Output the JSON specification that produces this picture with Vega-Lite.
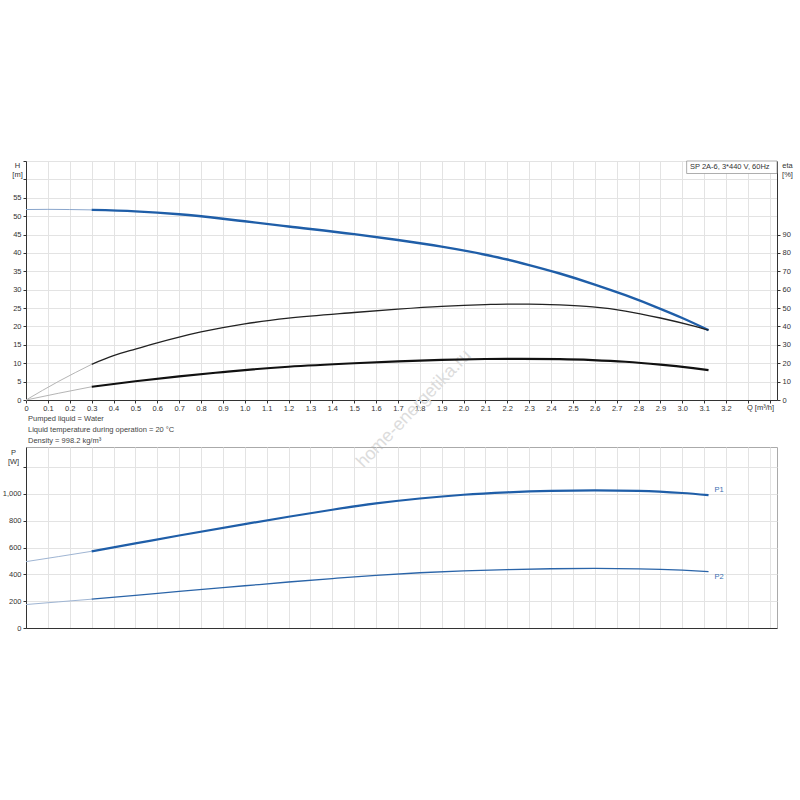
{
  "$schema": "https://vega.github.io/schema/vega-lite/v6.json",
  "background": "white",
  "padding": {"left": 1, "top": 156, "right": 8, "bottom": 10},
  "bounds": "flush",
  "spacing": 47,
  "config": {
    "font": "Liberation Sans",
    "axis": {
      "labelFontSize": 7.5,
      "labelColor": "#333333",
      "labelFont": "Liberation Sans",
      "titleFont": "Liberation Sans",
      "titleFontSize": 7.5,
      "titleFontWeight": "normal",
      "titleColor": "#333333",
      "tickColor": "#333333",
      "tickSize": 3,
      "labelPadding": 2,
      "domainColor": "#333333",
      "gridColor": "#e3e3e3",
      "gridWidth": 1
    },
    "text": {"font": "Liberation Sans"}
  },
  "datasets": {
    "curves": [
      {"s": "H", "seg": "ext", "Q": 0, "v": 51.8},
      {"s": "H", "seg": "ext", "Q": 0.1, "v": 51.85},
      {"s": "H", "seg": "ext", "Q": 0.2, "v": 51.8},
      {"s": "H", "seg": "ext", "Q": 0.3, "v": 51.7},
      {"s": "H", "seg": "main", "Q": 0.3, "v": 51.7},
      {"s": "H", "seg": "main", "Q": 0.5, "v": 51.3},
      {"s": "H", "seg": "main", "Q": 0.7, "v": 50.5},
      {"s": "H", "seg": "main", "Q": 0.9, "v": 49.3},
      {"s": "H", "seg": "main", "Q": 1.0, "v": 48.6},
      {"s": "H", "seg": "main", "Q": 1.2, "v": 47.2},
      {"s": "H", "seg": "main", "Q": 1.5, "v": 45.1},
      {"s": "H", "seg": "main", "Q": 1.7, "v": 43.5},
      {"s": "H", "seg": "main", "Q": 1.9, "v": 41.7},
      {"s": "H", "seg": "main", "Q": 2.1, "v": 39.5},
      {"s": "H", "seg": "main", "Q": 2.2, "v": 38.2},
      {"s": "H", "seg": "main", "Q": 2.3, "v": 36.7},
      {"s": "H", "seg": "main", "Q": 2.44, "v": 34.4},
      {"s": "H", "seg": "main", "Q": 2.6, "v": 31.4},
      {"s": "H", "seg": "main", "Q": 2.74, "v": 28.5},
      {"s": "H", "seg": "main", "Q": 2.9, "v": 24.8},
      {"s": "H", "seg": "main", "Q": 3.0, "v": 22.3},
      {"s": "H", "seg": "main", "Q": 3.12, "v": 19.0},
      {"s": "eta", "seg": "ext", "Q": 0, "v": 0},
      {"s": "eta", "seg": "ext", "Q": 0.15, "v": 10.2},
      {"s": "eta", "seg": "ext", "Q": 0.3, "v": 19.4},
      {"s": "eta", "seg": "main", "Q": 0.3, "v": 19.4},
      {"s": "eta", "seg": "main", "Q": 0.4, "v": 24.1},
      {"s": "eta", "seg": "main", "Q": 0.5, "v": 27.7},
      {"s": "eta", "seg": "main", "Q": 0.6, "v": 31.1},
      {"s": "eta", "seg": "main", "Q": 0.7, "v": 34.2},
      {"s": "eta", "seg": "main", "Q": 0.8, "v": 37.0},
      {"s": "eta", "seg": "main", "Q": 0.9, "v": 39.4},
      {"s": "eta", "seg": "main", "Q": 1.0, "v": 41.4},
      {"s": "eta", "seg": "main", "Q": 1.2, "v": 44.5},
      {"s": "eta", "seg": "main", "Q": 1.5, "v": 47.6},
      {"s": "eta", "seg": "main", "Q": 1.7, "v": 49.4},
      {"s": "eta", "seg": "main", "Q": 1.9, "v": 50.9},
      {"s": "eta", "seg": "main", "Q": 2.1, "v": 51.9},
      {"s": "eta", "seg": "main", "Q": 2.2, "v": 52.2},
      {"s": "eta", "seg": "main", "Q": 2.3, "v": 52.2},
      {"s": "eta", "seg": "main", "Q": 2.44, "v": 51.7},
      {"s": "eta", "seg": "main", "Q": 2.59, "v": 50.6},
      {"s": "eta", "seg": "main", "Q": 2.74, "v": 48.4},
      {"s": "eta", "seg": "main", "Q": 2.9, "v": 44.6},
      {"s": "eta", "seg": "main", "Q": 3.05, "v": 40.3},
      {"s": "eta", "seg": "main", "Q": 3.12, "v": 38.0},
      {"s": "etatot", "seg": "ext", "Q": 0, "v": 0},
      {"s": "etatot", "seg": "ext", "Q": 0.15, "v": 3.7},
      {"s": "etatot", "seg": "ext", "Q": 0.3, "v": 7.2},
      {"s": "etatot", "seg": "main", "Q": 0.3, "v": 7.2},
      {"s": "etatot", "seg": "main", "Q": 0.5, "v": 10.2},
      {"s": "etatot", "seg": "main", "Q": 0.7, "v": 12.9},
      {"s": "etatot", "seg": "main", "Q": 0.9, "v": 15.2},
      {"s": "etatot", "seg": "main", "Q": 1.0, "v": 16.3},
      {"s": "etatot", "seg": "main", "Q": 1.2, "v": 18.1},
      {"s": "etatot", "seg": "main", "Q": 1.5, "v": 20.0},
      {"s": "etatot", "seg": "main", "Q": 1.7, "v": 21.0},
      {"s": "etatot", "seg": "main", "Q": 1.9, "v": 21.8},
      {"s": "etatot", "seg": "main", "Q": 2.1, "v": 22.3},
      {"s": "etatot", "seg": "main", "Q": 2.2, "v": 22.4},
      {"s": "etatot", "seg": "main", "Q": 2.44, "v": 22.2},
      {"s": "etatot", "seg": "main", "Q": 2.59, "v": 21.7},
      {"s": "etatot", "seg": "main", "Q": 2.74, "v": 20.8},
      {"s": "etatot", "seg": "main", "Q": 2.9, "v": 19.2},
      {"s": "etatot", "seg": "main", "Q": 3.05, "v": 17.3},
      {"s": "etatot", "seg": "main", "Q": 3.12, "v": 16.3},
      {"s": "P1", "seg": "ext", "Q": 0, "v": 495},
      {"s": "P1", "seg": "ext", "Q": 0.15, "v": 533},
      {"s": "P1", "seg": "ext", "Q": 0.3, "v": 572},
      {"s": "P1", "seg": "main", "Q": 0.3, "v": 572},
      {"s": "P1", "seg": "main", "Q": 0.5, "v": 631},
      {"s": "P1", "seg": "main", "Q": 0.7, "v": 690},
      {"s": "P1", "seg": "main", "Q": 1.0, "v": 775},
      {"s": "P1", "seg": "main", "Q": 1.2, "v": 830},
      {"s": "P1", "seg": "main", "Q": 1.4, "v": 882},
      {"s": "P1", "seg": "main", "Q": 1.6, "v": 929},
      {"s": "P1", "seg": "main", "Q": 1.8, "v": 966},
      {"s": "P1", "seg": "main", "Q": 2.0, "v": 994},
      {"s": "P1", "seg": "main", "Q": 2.2, "v": 1012},
      {"s": "P1", "seg": "main", "Q": 2.4, "v": 1023},
      {"s": "P1", "seg": "main", "Q": 2.6, "v": 1027},
      {"s": "P1", "seg": "main", "Q": 2.8, "v": 1023},
      {"s": "P1", "seg": "main", "Q": 3.0, "v": 1007},
      {"s": "P1", "seg": "main", "Q": 3.12, "v": 991},
      {"s": "P2", "seg": "ext", "Q": 0, "v": 175},
      {"s": "P2", "seg": "ext", "Q": 0.15, "v": 195},
      {"s": "P2", "seg": "ext", "Q": 0.3, "v": 215},
      {"s": "P2", "seg": "main", "Q": 0.3, "v": 215},
      {"s": "P2", "seg": "main", "Q": 0.5, "v": 244},
      {"s": "P2", "seg": "main", "Q": 0.7, "v": 273},
      {"s": "P2", "seg": "main", "Q": 1.0, "v": 315},
      {"s": "P2", "seg": "main", "Q": 1.2, "v": 343},
      {"s": "P2", "seg": "main", "Q": 1.4, "v": 369},
      {"s": "P2", "seg": "main", "Q": 1.6, "v": 393},
      {"s": "P2", "seg": "main", "Q": 1.8, "v": 412},
      {"s": "P2", "seg": "main", "Q": 2.0, "v": 426},
      {"s": "P2", "seg": "main", "Q": 2.2, "v": 436},
      {"s": "P2", "seg": "main", "Q": 2.4, "v": 442},
      {"s": "P2", "seg": "main", "Q": 2.6, "v": 444},
      {"s": "P2", "seg": "main", "Q": 2.8, "v": 441},
      {"s": "P2", "seg": "main", "Q": 3.0, "v": 431},
      {"s": "P2", "seg": "main", "Q": 3.12, "v": 421}
    ]
  },
  "vconcat": [
    {
      "width": 751,
      "height": 239,
      "view": {"stroke": "#dddddd"},
      "layer": [
        {
          "layer": [
            {
              "data": {"name": "curves"},
              "transform": [{"filter": "datum.s == 'H' && datum.seg == 'ext'"}],
              "mark": {"type": "line", "interpolate": "monotone", "color": "#8aa6cc", "strokeWidth": 1},
              "encoding": {
                "x": {
                  "field": "Q", "type": "quantitative",
                  "scale": {"domain": [0, 3.433], "nice": false, "zero": false},
                  "axis": {"orient": "top", "grid": true, "gridColor": "#e3e3e3", "labels": false, "ticks": false, "domain": false, "tickCount": 34, "title": null}
                },
                "y": {
                  "field": "v", "type": "quantitative",
                  "scale": {"domain": [0, 65], "nice": false},
                  "axis": {"orient": "right", "grid": true, "gridColor": "#e3e3e3", "labels": false, "ticks": false, "domain": false, "tickCount": 13, "title": null}
                }
              }
            },
            {
              "data": {"name": "curves"},
              "transform": [{"filter": "datum.s == 'H' && datum.seg == 'main'"}],
              "mark": {"type": "line", "interpolate": "monotone", "color": "#1f5ea8", "strokeWidth": 2.4},
              "encoding": {
                "x": {
                  "field": "Q", "type": "quantitative",
                  "axis": {
                    "orient": "bottom",
                    "tickCount": 34,
                    "labelExpr": "datum.value > 3.25 ? '' : datum.value == 0 ? '0' : format(datum.value, '.1f')",
                    "labelFlush": false,
                    "labelOverlap": false,
                    "labelPadding": 1,
                    "grid": false,
                    "title": "Q [m³/h]",
                    "titleAngle": 0,
                    "titleAlign": "center",
                    "titleBaseline": "middle",
                    "titleX": 734,
                    "titleY": 7
                  }
                },
                "y": {
                  "field": "v", "type": "quantitative",
                  "axis": {
                    "orient": "left",
                    "tickCount": 13,
                    "labelExpr": "datum.value > 57 ? '' : datum.label",
                    "labelOverlap": false,
                    "grid": false,
                    "title": ["H", "[m]"],
                    "titleAngle": 0,
                    "titleAlign": "center",
                    "titleBaseline": "top",
                    "titleLineHeight": 9.5,
                    "titleX": -9,
                    "titleY": 0
                  }
                }
              }
            },
            {
              "data": {"values": [{}]},
              "mark": {"type": "rect", "fill": "white", "stroke": "#999999", "strokeWidth": 0.8},
              "encoding": {
                "x": {"datum": 3.02, "type": "quantitative", "axis": null},
                "x2": {"datum": 3.433},
                "y": {"datum": 61.6, "type": "quantitative", "axis": null},
                "y2": {"datum": 65}
              }
            },
            {
              "data": {"values": [{}]},
              "mark": {"type": "text", "align": "left", "baseline": "middle", "fontSize": 7.5, "color": "#333333"},
              "encoding": {
                "x": {"datum": 3.035, "type": "quantitative", "axis": null},
                "y": {"datum": 63.3, "type": "quantitative", "axis": null},
                "text": {"value": "SP 2A-6, 3*440 V, 60Hz"}
              }
            },
            {
              "data": {"values": [{}]},
              "mark": {"type": "text", "align": "center", "baseline": "middle", "fontSize": 18, "angle": -46, "color": "#dcdcdc"},
              "encoding": {
                "x": {"datum": 1.774, "type": "quantitative", "axis": null},
                "y": {"datum": -2.45, "type": "quantitative", "axis": null},
                "text": {"value": "home-energetika.ru"}
              }
            }
          ],
          "resolve": {"axis": {"x": "independent", "y": "independent"}}
        },
        {
          "layer": [
            {
              "data": {"name": "curves"},
              "transform": [{"filter": "datum.s == 'eta' && datum.seg == 'main'"}],
              "mark": {"type": "line", "interpolate": "monotone", "color": "#222222", "strokeWidth": 1.3},
              "encoding": {
                "x": {"field": "Q", "type": "quantitative", "axis": null},
                "y": {
                  "field": "v", "type": "quantitative",
                  "scale": {"domain": [0, 130], "nice": false},
                  "axis": {
                    "orient": "right",
                    "tickCount": 13,
                    "labelExpr": "datum.value > 95 ? '' : datum.label",
                    "tickOpacity": {"condition": {"test": "datum.value > 95", "value": 0}, "value": 1},
                    "labelOverlap": false,
                    "grid": false,
                    "title": ["eta", "[%]"],
                    "titleAngle": 0,
                    "titleAlign": "center",
                    "titleBaseline": "top",
                    "titleLineHeight": 9.5,
                    "titleX": 10,
                    "titleY": 0
                  }
                }
              }
            },
            {
              "data": {"name": "curves"},
              "transform": [{"filter": "datum.s == 'etatot' && datum.seg == 'main'"}],
              "mark": {"type": "line", "interpolate": "monotone", "color": "#111111", "strokeWidth": 2.2},
              "encoding": {
                "x": {"field": "Q", "type": "quantitative", "axis": null},
                "y": {"field": "v", "type": "quantitative", "axis": null}
              }
            },
            {
              "data": {"name": "curves"},
              "transform": [{"filter": "datum.s != 'H' && datum.s != 'P1' && datum.s != 'P2' && datum.seg == 'ext'"}],
              "mark": {"type": "line", "interpolate": "monotone", "color": "#b5b5b5", "strokeWidth": 1},
              "encoding": {
                "x": {"field": "Q", "type": "quantitative", "axis": null},
                "y": {"field": "v", "type": "quantitative", "axis": null},
                "detail": {"field": "s"}
              }
            }
          ],
          "resolve": {"axis": {"x": "independent", "y": "independent"}}
        }
      ],
      "resolve": {"scale": {"y": "independent"}, "axis": {"x": "independent", "y": "independent"}}
    },
    {
      "width": 751,
      "height": 181,
      "view": {"stroke": "#aaaaaa"},
      "title": {
        "text": ["Pumped liquid = Water", "Liquid temperature during operation = 20 °C", "Density = 998.2 kg/m³"],
        "anchor": "start",
        "frame": "group",
        "orient": "top",
        "fontSize": 7.5,
        "fontWeight": "normal",
        "color": "#444444",
        "lineHeight": 11,
        "baseline": "bottom",
        "offset": -5,
        "dx": 2
      },
      "layer": [
        {
          "data": {"name": "curves"},
          "transform": [{"filter": "(datum.s == 'P1' || datum.s == 'P2') && datum.seg == 'ext'"}],
          "mark": {"type": "line", "interpolate": "monotone", "color": "#9fb5d3", "strokeWidth": 1},
          "encoding": {
            "x": {
              "field": "Q", "type": "quantitative",
              "scale": {"domain": [0, 3.433], "nice": false, "zero": false},
              "axis": {"orient": "top", "grid": true, "gridColor": "#e3e3e3", "labels": false, "ticks": false, "domain": false, "tickCount": 34, "title": null}
            },
            "y": {
              "field": "v", "type": "quantitative",
              "scale": {"domain": [0, 1350], "nice": false},
              "axis": {"orient": "right", "grid": true, "gridColor": "#e3e3e3", "labels": false, "ticks": false, "domain": false, "tickCount": 7, "title": null}
            },
            "detail": {"field": "s"}
          }
        },
        {
          "data": {"name": "curves"},
          "transform": [{"filter": "datum.s == 'P1' && datum.seg == 'main'"}],
          "mark": {"type": "line", "interpolate": "monotone", "color": "#1f5ea8", "strokeWidth": 2.2},
          "encoding": {
            "x": {
              "field": "Q", "type": "quantitative",
              "axis": {"orient": "bottom", "labels": false, "ticks": false, "grid": false, "title": null}
            },
            "y": {
              "field": "v", "type": "quantitative",
              "axis": {
                "orient": "left",
                "tickCount": 7,
                "labelExpr": "datum.value > 1100 ? '' : format(datum.value, ',')",
                "labelOverlap": false,
                "grid": false,
                "title": ["P", "[W]"],
                "titleAngle": 0,
                "titleAlign": "center",
                "titleBaseline": "top",
                "titleLineHeight": 9.5,
                "titleX": -13,
                "titleY": 1
              }
            }
          }
        },
        {
          "data": {"name": "curves"},
          "transform": [{"filter": "datum.s == 'P2' && datum.seg == 'main'"}],
          "mark": {"type": "line", "interpolate": "monotone", "color": "#2a64a8", "strokeWidth": 1.3},
          "encoding": {
            "x": {"field": "Q", "type": "quantitative", "axis": null},
            "y": {"field": "v", "type": "quantitative", "axis": null}
          }
        },
        {
          "data": {"name": "curves"},
          "transform": [{"filter": "datum.s == 'P1' && datum.seg == 'main' && datum.Q == 3.12"}],
          "mark": {"type": "text", "align": "left", "baseline": "middle", "dx": 6, "dy": -5, "fontSize": 7.5, "color": "#3a6fb0"},
          "encoding": {
            "x": {"field": "Q", "type": "quantitative", "axis": null},
            "y": {"field": "v", "type": "quantitative", "axis": null},
            "text": {"field": "s"}
          }
        },
        {
          "data": {"name": "curves"},
          "transform": [{"filter": "datum.s == 'P2' && datum.seg == 'main' && datum.Q == 3.12"}],
          "mark": {"type": "text", "align": "left", "baseline": "middle", "dx": 6, "dy": 5, "fontSize": 7.5, "color": "#3a6fb0"},
          "encoding": {
            "x": {"field": "Q", "type": "quantitative", "axis": null},
            "y": {"field": "v", "type": "quantitative", "axis": null},
            "text": {"field": "s"}
          }
        }
      ],
      "resolve": {"axis": {"x": "independent", "y": "independent"}}
    }
  ]
}
